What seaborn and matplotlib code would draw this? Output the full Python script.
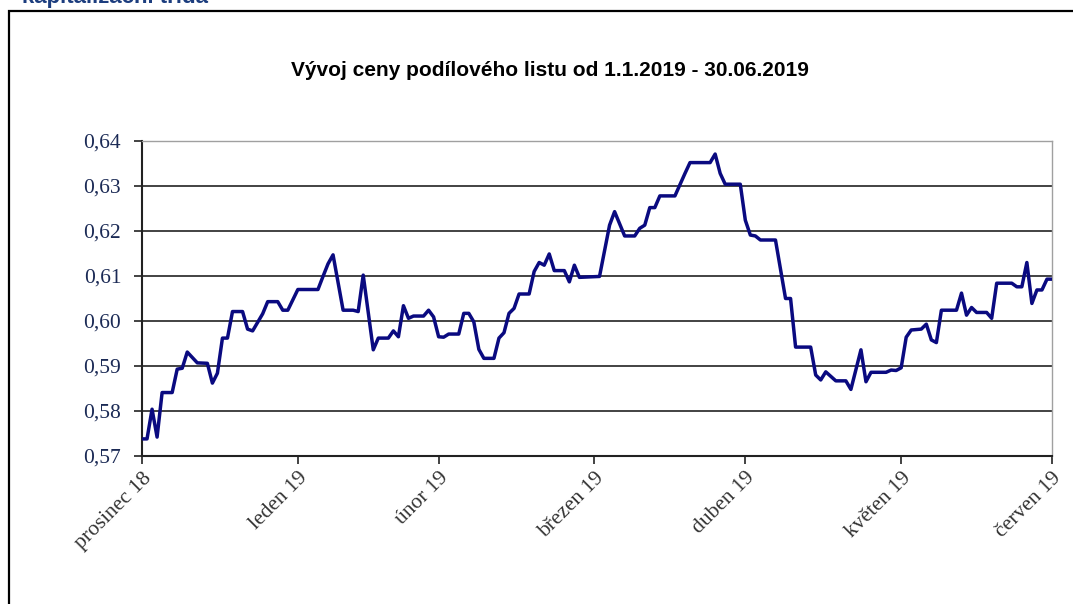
import numpy as np
import pandas as pd
import matplotlib
matplotlib.use("Agg")
import matplotlib.pyplot as plt
import matplotlib.patches as patches
from matplotlib.ticker import FuncFormatter
import seaborn as sns

# hodnoty (den, cena podiloveho listu)
datumy = [
    "2018-12-31", "2019-01-01", "2019-01-02", "2019-01-03", "2019-01-04", "2019-01-06",
    "2019-01-07", "2019-01-08", "2019-01-09", "2019-01-11", "2019-01-13", "2019-01-14",
    "2019-01-15", "2019-01-16", "2019-01-17", "2019-01-18", "2019-01-20", "2019-01-21",
    "2019-01-22", "2019-01-24", "2019-01-25", "2019-01-27", "2019-01-28", "2019-01-29",
    "2019-01-31", "2019-02-04", "2019-02-05", "2019-02-06", "2019-02-07", "2019-02-09",
    "2019-02-11", "2019-02-12", "2019-02-13", "2019-02-15", "2019-02-16", "2019-02-18",
    "2019-02-19", "2019-02-20", "2019-02-21", "2019-02-22", "2019-02-23", "2019-02-25",
    "2019-02-26", "2019-02-27", "2019-02-28", "2019-03-01", "2019-03-02", "2019-03-04",
    "2019-03-05", "2019-03-06", "2019-03-07", "2019-03-08", "2019-03-09", "2019-03-11",
    "2019-03-12", "2019-03-13", "2019-03-14", "2019-03-15", "2019-03-16", "2019-03-18",
    "2019-03-19", "2019-03-20", "2019-03-21", "2019-03-22", "2019-03-23", "2019-03-25",
    "2019-03-26", "2019-03-27", "2019-03-28", "2019-04-01", "2019-04-03", "2019-04-04",
    "2019-04-06", "2019-04-08", "2019-04-09", "2019-04-10", "2019-04-11", "2019-04-12",
    "2019-04-13", "2019-04-16", "2019-04-18", "2019-04-19", "2019-04-23", "2019-04-24",
    "2019-04-25", "2019-04-26", "2019-04-29", "2019-04-30", "2019-05-01", "2019-05-02",
    "2019-05-03", "2019-05-06", "2019-05-08", "2019-05-09", "2019-05-10", "2019-05-13",
    "2019-05-14", "2019-05-15", "2019-05-16", "2019-05-18", "2019-05-20", "2019-05-21",
    "2019-05-23", "2019-05-24", "2019-05-25", "2019-05-28", "2019-05-29", "2019-05-30",
    "2019-05-31", "2019-06-01", "2019-06-02", "2019-06-04", "2019-06-05", "2019-06-06",
    "2019-06-07", "2019-06-08", "2019-06-11", "2019-06-12", "2019-06-13", "2019-06-14",
    "2019-06-15", "2019-06-17", "2019-06-18", "2019-06-19", "2019-06-22", "2019-06-23",
    "2019-06-24", "2019-06-25", "2019-06-26", "2019-06-27", "2019-06-28", "2019-06-29",
    "2019-06-30",
]
ceny = [
    0.5738, 0.5738, 0.5804, 0.5742, 0.5841, 0.5841,
    0.5893, 0.5895, 0.5931, 0.5907, 0.5906, 0.5862,
    0.5884, 0.5962, 0.5962, 0.6021, 0.6021, 0.5982,
    0.5978, 0.6016, 0.6043, 0.6043, 0.6024, 0.6024,
    0.6070, 0.6070, 0.6099, 0.6127, 0.6147, 0.6024,
    0.6024, 0.6021, 0.6102, 0.5936, 0.5962, 0.5962,
    0.5978, 0.5965, 0.6034, 0.6006, 0.6011, 0.6011,
    0.6024, 0.6009, 0.5965, 0.5964, 0.5971, 0.5971,
    0.6017, 0.6017, 0.5998, 0.5937, 0.5917, 0.5917,
    0.5962, 0.5974, 0.6017, 0.6028, 0.6060, 0.6060,
    0.6110, 0.6130, 0.6124, 0.6149, 0.6112, 0.6112,
    0.6087, 0.6124, 0.6097, 0.6099, 0.6213, 0.6243,
    0.6189, 0.6189, 0.6206, 0.6213, 0.6252, 0.6252,
    0.6278, 0.6278, 0.6328, 0.6352, 0.6352, 0.6371,
    0.6328, 0.6304, 0.6304, 0.6224, 0.6191, 0.6189,
    0.6180, 0.6180, 0.6050, 0.6050, 0.5942, 0.5942,
    0.5880, 0.5869, 0.5887, 0.5867, 0.5867, 0.5848,
    0.5936, 0.5865, 0.5886, 0.5886, 0.5891, 0.5890,
    0.5896, 0.5964, 0.5980, 0.5982, 0.5993, 0.5958,
    0.5952, 0.6024, 0.6024, 0.6062, 0.6013, 0.6030,
    0.6019, 0.6019, 0.6006, 0.6084, 0.6084, 0.6076,
    0.6076, 0.6130, 0.6039, 0.6069, 0.6069, 0.6093,
    0.6093,
]

mesice_ticks = ["2018-12-31", "2019-01-31", "2019-02-28", "2019-03-31",
                "2019-04-30", "2019-05-31", "2019-06-30"]
mesice_labels = ["prosinec 18", "leden 19", "únor 19", "březen 19",
                 "duben 19", "květen 19", "červen 19"]
y_ticks = [0.57, 0.58, 0.59, 0.60, 0.61, 0.62, 0.63, 0.64]

df = pd.DataFrame({"datum": pd.to_datetime(datumy), "cena": ceny})

sns.set_style("white")

fig = plt.figure(figsize=(10.73, 6.04), dpi=100)
ax = fig.add_axes([142 / 1073, 1 - 456 / 604, 910 / 1073, 315 / 604])

# ramecek kolem grafu
fig.patches.append(patches.Rectangle((9 / 1073, -0.1), 1.2, 1.1 - 11 / 604,
                                     transform=fig.transFigure, fill=False,
                                     edgecolor="black", linewidth=1.6))
fig.text(22 / 1073, 1 - 3 / 604, "kapitalizační třída", fontsize=16,
         fontweight="bold", color="#1c3d7e", family="Liberation Sans",
         va="baseline", ha="left")

for y in y_ticks[1:-1]:
    ax.axhline(y, color="#222222", linewidth=1.2, zorder=1)

sns.lineplot(data=df, x="datum", y="cena", ax=ax, color="#0a0a80",
             linewidth=2.5, zorder=3)

ax.set_xlim(pd.Timestamp(mesice_ticks[0]), pd.Timestamp(mesice_ticks[-1]))
ax.set_ylim(0.57, 0.64)
ax.set_xticks(pd.to_datetime(mesice_ticks))
ax.set_xticklabels(mesice_labels, rotation=45, ha="right",
                   rotation_mode="anchor", family="Liberation Serif",
                   fontsize=15.5, color="#333333")
ax.set_yticks(y_ticks)
ax.yaxis.set_major_formatter(FuncFormatter(lambda v, p: f"{v:.2f}".replace(".", ",")))
for lab in ax.get_yticklabels():
    lab.set_family("Liberation Serif")
    lab.set_fontsize(15.5)
    lab.set_color("#1b2a55")
ax.tick_params(axis="both", which="major", direction="out", length=6,
               width=1.2, color="#222222", bottom=True, left=True)
ax.tick_params(axis="y", pad=9)
ax.tick_params(axis="x", pad=3)
ax.set_xlabel("")
ax.set_ylabel("")

for s in ["left", "bottom"]:
    ax.spines[s].set_color("#222222")
    ax.spines[s].set_linewidth(1.5)
for s in ["top", "right"]:
    ax.spines[s].set_color("#a0a0a0")
    ax.spines[s].set_linewidth(1.0)

fig.text(550 / 1073, 1 - 71 / 604,
         "Vývoj ceny podílového listu od 1.1.2019 - 30.06.2019",
         fontsize=15, fontweight="bold", family="Liberation Sans",
         ha="center", va="center", color="black")

fig.savefig("out.png", dpi=100)
